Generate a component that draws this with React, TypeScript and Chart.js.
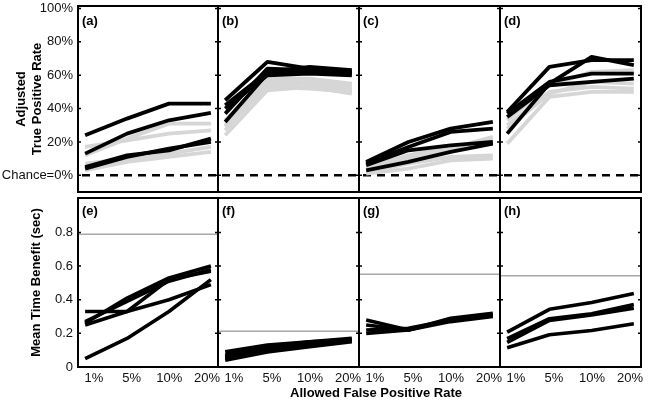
import React, { useEffect, useRef } from 'react';
import { Chart, registerables } from 'chart.js';
Chart.register(...registerables);

const FONT = "'Liberation Sans', Arial, Helvetica, sans-serif";
Chart.defaults.font.family = FONT;
Chart.defaults.font.size = 13;

const fprLabels = ['1%', '5%', '10%', '20%'];
const tprTicks = [0, 20, 40, 60, 80, 100];
const timeTicks = [0, 0.2, 0.4, 0.6, 0.8];
const chanceLevel = 0;

// (a)-(d): Adjusted True Positive Rate (%)
const aBlack = [[24, 34, 43, 43], [13, 25, 33, 37.5], [5, 12, 15, 22], [4, 11, 16, 20]];
const aGray = [[17, 21, 25, 27], [12, 22, 31, 31], [7, 10, 13, 17], [3, 8, 11, 14]];
const bBlack = [[45, 68, 64, 62], [42, 62, 65, 63], [37, 64, 63, 61], [32, 61, 62, 61], [40, 60, 61, 60]];
const bGray = [[24, 51, 53, 49], [27, 54, 55, 51], [30, 56, 56, 53], [33, 58, 58, 55], [29, 53, 52, 50]];
const cBlack = [[8, 20, 28, 32], [7, 17, 26, 28], [6, 15, 18, 20], [3, 8, 14, 19]];
const cGray = [[1, 4, 9, 10], [4, 10, 16, 23], [2, 7, 11, 12], [5, 12, 17, 21]];
const dBlack = [[38, 65, 69, 69], [25, 55, 71, 66], [37, 56, 61, 61], [35, 54, 56, 58]];
const dGray = [[19, 47, 50, 50], [30, 50, 53, 52], [33, 54, 62, 63], [28, 49, 56, 55]];

// (e)-(h): Mean Time Benefit (sec)
const eLines = [[0.26, 0.41, 0.53, 0.6], [0.25, 0.33, 0.52, 0.57], [0.33, 0.33, 0.4, 0.49], [0.27, 0.39, 0.51, 0.58], [0.05, 0.17, 0.33, 0.52]];
const fLines = [[0.09, 0.13, 0.15, 0.17], [0.07, 0.12, 0.15, 0.16], [0.05, 0.1, 0.13, 0.16], [0.04, 0.09, 0.12, 0.15], [0.06, 0.11, 0.14, 0.16]];
const gLines = [[0.28, 0.22, 0.28, 0.31], [0.25, 0.22, 0.29, 0.32], [0.2, 0.22, 0.27, 0.3], [0.22, 0.23, 0.28, 0.31]];
const hLines = [[0.207, 0.343, 0.383, 0.437], [0.168, 0.287, 0.317, 0.371], [0.147, 0.277, 0.31, 0.35], [0.114, 0.192, 0.217, 0.257]];
const timeRefs = [0.79, 0.213, 0.551, 0.543];

const panelNames = ['(a)', '(b)', '(c)', '(d)', '(e)', '(f)', '(g)', '(h)'];
const topBlack = [aBlack, bBlack, cBlack, dBlack];
const topGray = [aGray, bGray, cGray, dGray];
const bottomLines = [eLines, fLines, gLines, hLines];

const colX = [78, 218, 359, 500, 641];
const rowY = [[6, 192], [198, 367]];

type Spec = { row: number; col: number };

function toPts(vals: number[]) {
  return vals.map((v, i) => ({ x: i, y: v }));
}

function Panel({ row, col }: Spec) {
  const ref = useRef<HTMLCanvasElement>(null);
  const isLeft = col === 0;
  const isBottom = row === 1;
  const L = colX[col];
  const R = colX[col + 1];
  const T = rowY[row][0];
  const B = rowY[row][1];
  const cLeft = isLeft ? 0 : L - 4;
  const cTop = row === 0 ? 0 : T - 4;
  const cW = R + 4 - cLeft;
  const cH = (isBottom ? 405 : B + 4) - cTop;
  const xlH = 30;

  useEffect(() => {
    const canvas = ref.current;
    if (!canvas) return;
    const ticksArr = row === 0 ? tprTicks : timeTicks;
    const datasets: any[] = [];
    if (row === 0) {
      topBlack[col].forEach((s) =>
        datasets.push({ data: toPts(s), borderColor: '#000', borderWidth: 3.8, order: 0 })
      );
      topGray[col].forEach((s) =>
        datasets.push({ data: toPts(s), borderColor: '#d6d6d6', borderWidth: 3.8, order: 1 })
      );
    } else {
      bottomLines[col].forEach((s) =>
        datasets.push({ data: toPts(s), borderColor: '#000', borderWidth: 3.6, order: 0 })
      );
    }
    datasets.forEach((d) => {
      d.pointRadius = 0;
      d.tension = 0;
      d.fill = false;
      d.borderJoinStyle = 'round';
      d.borderCapStyle = 'butt';
    });

    const framePlugin = {
      id: 'frame' + row + col,
      beforeDatasetsDraw(chart: any) {
        const { ctx, chartArea: a, scales } = chart;
        ctx.save();
        if (row === 1) {
          const y = scales.y.getPixelForValue(timeRefs[col]);
          ctx.strokeStyle = '#a8a8a8';
          ctx.lineWidth = 1.5;
          ctx.beginPath();
          ctx.moveTo(a.left, y);
          ctx.lineTo(a.right, y);
          ctx.stroke();
        } else {
          const y = scales.y.getPixelForValue(chanceLevel);
          ctx.strokeStyle = '#000';
          ctx.lineWidth = 2.5;
          ctx.setLineDash([8, 6]);
          ctx.beginPath();
          ctx.moveTo(a.left + 4, y);
          ctx.lineTo(a.right, y);
          ctx.stroke();
        }
        ctx.restore();
      },
      afterDatasetsDraw(chart: any) {
        const { ctx, chartArea: a, scales } = chart;
        ctx.save();
        ctx.strokeStyle = '#000';
        ctx.lineWidth = 2;
        ctx.strokeRect(a.left, a.top, a.right - a.left, a.bottom - a.top);
        ctx.lineWidth = 1.5;
        ticksArr.forEach((v) => {
          const y = scales.y.getPixelForValue(v);
          ctx.beginPath();
          ctx.moveTo(a.left, y);
          ctx.lineTo(a.left + 3, y);
          ctx.moveTo(a.right, y);
          ctx.lineTo(a.right - 3, y);
          ctx.stroke();
        });
        ctx.fillStyle = '#000';
        ctx.font = 'bold 13px ' + FONT;
        ctx.textBaseline = 'middle';
        ctx.textAlign = 'left';
        ctx.fillText(panelNames[row * 4 + col], a.left + 4, a.top + (row === 0 ? 15 : 13));
        ctx.restore();
      },
    };

    const chart = new Chart(canvas, {
      type: 'line',
      data: { datasets },
      options: {
        animation: false,
        responsive: false,
        maintainAspectRatio: false,
        layout: {
          padding: {
            left: isLeft ? 0 : 4,
            right: 4,
            top: row === 0 ? T : 4,
            bottom: isBottom ? cH - (B - cTop) - xlH : 4,
          },
        },
        plugins: { legend: { display: false }, tooltip: { enabled: false }, title: { display: false } },
        scales: {
          x: { type: 'linear', min: -0.17, max: 3.17, display: false },
          xl: {
            type: 'linear',
            position: 'bottom',
            min: -0.421,
            max: 3.289,
            display: isBottom,
            afterBuildTicks: (s: any) => {
              s.ticks = fprLabels.map((_, i) => ({ value: i }));
            },
            afterFit: (s: any) => {
              s.height = isBottom ? xlH : 0;
              s.paddingLeft = 0;
              s.paddingRight = 0;
            },
            grid: { display: false, drawTicks: false },
            border: { display: false },
            ticks: {
              padding: 4,
              autoSkip: false,
              maxRotation: 0,
              color: '#111',
              font: { size: 13 },
              callback: (v: any) => fprLabels[v as number],
            },
          },
          y: {
            type: 'linear',
            min: row === 0 ? -10 : 0,
            max: row === 0 ? 101.5 : 1.005,
            display: isLeft,
            afterBuildTicks: (s: any) => {
              s.ticks = ticksArr.map((v) => ({ value: v }));
            },
            afterFit: (s: any) => {
              s.width = isLeft ? 78 : 0;
              s.paddingTop = 0;
              s.paddingBottom = 0;
            },
            grid: { display: false, drawTicks: false },
            border: { display: false },
            ticks: {
              padding: 5,
              color: '#111',
              font: { size: 13 },
              callback: (v: any) => {
                if (row === 0) return v === 0 ? 'Chance=0%' : v + '%';
                return v === 0 ? '0' : Number(v).toFixed(1);
              },
            },
            title: {
              display: true,
              text: row === 0 ? ['Adjusted', 'True Positive Rate'] : 'Mean Time Benefit (sec)',
              color: '#000',
              font: { size: 13, weight: 'bold', lineHeight: 1.23 },
              padding: { top: row === 0 ? 13 : 28.5, bottom: 0 },
            },
          },
        },
      } as any,
      plugins: [framePlugin],
    });
    return () => chart.destroy();
  }, []);

  return (
    <canvas
      ref={ref}
      width={cW}
      height={cH}
      style={{ position: 'absolute', left: cLeft, top: cTop, width: cW, height: cH }}
    />
  );
}

export default function App() {
  const specs: Spec[] = [];
  for (let r = 0; r < 2; r++) for (let c = 0; c < 4; c++) specs.push({ row: r, col: c });
  return (
    <div style={{ position: 'absolute', left: 0, top: 0, width: 648, height: 405, background: '#fff', overflow: 'hidden' }}>
      {specs.map((s) => (
        <Panel key={s.row + '-' + s.col} row={s.row} col={s.col} />
      ))}
      <div
        style={{
          position: 'absolute',
          left: 226,
          width: 300,
          top: 385,
          textAlign: 'center',
          fontFamily: FONT,
          fontWeight: 'bold',
          fontSize: 13,
          lineHeight: '16px',
          color: '#000',
        }}
      >
        Allowed False Positive Rate
      </div>
    </div>
  );
}
